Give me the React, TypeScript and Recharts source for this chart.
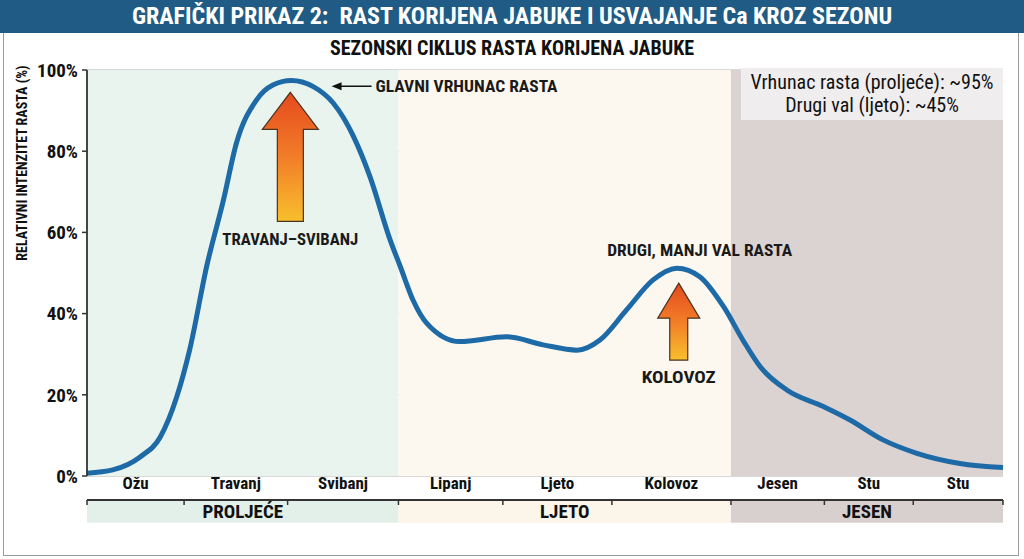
import { LineChart, Line, XAxis, YAxis, CartesianGrid, ReferenceArea, ReferenceDot } from "recharts";

const FONT = "'Liberation Sans Narrow', 'Roboto Condensed', Roboto, Arial, sans-serif";

// position along the season (0 = start of Ožu, 100 = end of last Stu)
const seasonPos = [
  0, 2.8, 5.8, 8.0, 9.8, 11.2, 13.1, 14.9, 16.3, 18.5, 20.3, 22.3, 24.7, 26.9, 29.1, 30.9, 33.1,
  34.2, 35.6, 37.1, 40.7, 45.8, 49.8, 53.5, 56.0, 58.9, 61.8, 64.4, 66.9, 69.5, 71.6, 73.5, 76.4,
  80.4, 83.3, 86.9, 90.6, 95.3, 100,
];
// relative root growth intensity (%)
const growth = [
  0.7, 1.5, 4.7, 9.6, 19.5, 31.0, 52.0, 68.0, 81.9, 92.6, 96.3, 97.4, 95.9, 91.8, 83.6, 73.7, 58.1,
  51.6, 43.3, 37.6, 33.1, 34.3, 32.3, 31.0, 33.5, 40.9, 48.3, 51.2, 49.1, 41.7, 33.5, 26.9, 21.2,
  17.1, 13.8, 8.9, 5.6, 3.1, 2.1,
];

const monthBounds = [0, 10.6, 21.9, 34.0, 45.4, 57.3, 70.3, 80.5, 90.2, 100];
const monthNames = ["Ožu", "Travanj", "Svibanj", "Lipanj", "Ljeto", "Kolovoz", "Jesen", "Stu", "Stu"];
const seasonNames = ["PROLJEĆE", "LJETO", "JESEN"];
const seasonBounds = [0, 34.0, 70.3, 100];
const seasonFill = ["#e9f4ee", "#fdf8ef", "#dbd2d2"];
const seasonRowFill = ["#e2f0e9", "#fcf5ea", "#d8cfcf"];
const yTicks = [0, 20, 40, 60, 80, 100];

const mainPeak = { pos: 22.2, value: 94.5 };
const secondPeak = { pos: 64.6, value: 47.5 };
const peakPointer = { pos: 26.7, value: 96 };

const data = seasonPos.map((p, i) => ({ pos: p, growth: growth[i] }));
const monthMids = monthNames.map((_, i) => (monthBounds[i] + monthBounds[i + 1]) / 2);

function UpArrow(props: any) {
  const { cx, cy, headW, headH, shaftW, len, label, labelDy, labelW, top, topDx, topW } = props;
  const pts = [
    [cx, cy],
    [cx + headW, cy + headH],
    [cx + shaftW, cy + headH],
    [cx + shaftW, cy + len],
    [cx - shaftW, cy + len],
    [cx - shaftW, cy + headH],
    [cx - headW, cy + headH],
  ]
    .map((p) => p.join(","))
    .join(" ");
  return (
    <g>
      <polygon points={pts} fill="url(#arrowGrad)" stroke="#4a3320" strokeWidth={1.2} />
      <text
        x={cx}
        y={cy + labelDy}
        textAnchor="middle"
        fontSize={17}
        fontWeight={700}
        fill="#1a1a1a"
        textLength={labelW}
        lengthAdjust="spacingAndGlyphs"
      >
        {label}
      </text>
      {top ? (
        <text
          x={cx + topDx}
          y={cy - 27}
          textAnchor="middle"
          fontSize={17}
          fontWeight={700}
          fill="#1a1a1a"
          textLength={topW}
          lengthAdjust="spacingAndGlyphs"
        >
          {top}
        </text>
      ) : null}
    </g>
  );
}

function LeftPointer(props: any) {
  const { cx, cy } = props;
  return (
    <g>
      <line x1={cx + 6} y1={cy} x2={cx + 40} y2={cy} stroke="#111" strokeWidth={1.5} />
      <polygon points={`${cx},${cy} ${cx + 10},${cy - 4} ${cx + 10},${cy + 4}`} fill="#111" />
      <text
        x={cx + 44}
        y={cy + 6}
        fontSize={17}
        fontWeight={700}
        fill="#1a1a1a"
        textLength={182}
        lengthAdjust="spacingAndGlyphs"
      >
        GLAVNI VRHUNAC RASTA
      </text>
    </g>
  );
}

export default function App() {
  return (
    <div
      style={{
        position: "relative",
        width: 1024,
        height: 559,
        background: "#ffffff",
        fontFamily: FONT,
        overflow: "hidden",
      }}
    >
      <style>{`body{margin:0}`}</style>
      <div
        style={{
          position: "absolute",
          left: 3,
          top: 30,
          width: 1014,
          height: 524,
          border: "1.5px solid #9c9c9c",
        }}
      />
      <div
        style={{
          position: "absolute",
          left: 0,
          top: 0,
          width: 1024,
          height: 33,
          background: "#1f5b84",
          color: "#ffffff",
          fontWeight: 700,
          fontSize: 24,
          lineHeight: "33px",
          textAlign: "center",
          whiteSpace: "pre",
        }}
      >
        {"GRAFIČKI PRIKAZ 2:  RAST KORIJENA JABUKE I USVAJANJE Ca KROZ SEZONU"}
      </div>
      <div
        style={{
          position: "absolute",
          left: 0,
          top: 36,
          width: 1024,
          textAlign: "center",
          fontWeight: 700,
          fontSize: 20,
          color: "#111",
        }}
      >
        SEZONSKI CIKLUS RASTA KORIJENA JABUKE
      </div>
      <div
        style={{
          position: "absolute",
          left: 22,
          top: 163,
          transform: "translate(-50%, -50%) rotate(-90deg)",
          whiteSpace: "nowrap",
          fontWeight: 700,
          fontSize: 14,
          color: "#111",
        }}
      >
        RELATIVNI INTENZITET RASTA (%)
      </div>
      <div style={{ position: "absolute", left: 0, top: 0 }}>
        <LineChart width={1024} height={559} data={data} margin={{ top: 70, right: 21, bottom: 53, left: 0 }}>
          <defs>
            <linearGradient id="arrowGrad" x1="0" y1="0" x2="0" y2="1">
              <stop offset="0%" stopColor="#e54a1f" />
              <stop offset="50%" stopColor="#f27d28" />
              <stop offset="100%" stopColor="#f8bf2c" />
            </linearGradient>
          </defs>
          {seasonNames.map((s, i) => (
            <ReferenceArea
              key={"bg" + i}
              xAxisId="m"
              x1={seasonBounds[i]}
              x2={seasonBounds[i + 1]}
              y1={0}
              y2={100}
              fill={seasonFill[i]}
              fillOpacity={1}
              stroke="none"
            />
          ))}
          {seasonNames.map((s, i) => (
            <ReferenceArea
              key={"row" + i}
              xAxisId="m"
              x1={seasonBounds[i]}
              x2={seasonBounds[i + 1]}
              y1={-5.9}
              y2={-11.5}
              ifOverflow="visible"
              fill={seasonRowFill[i]}
              fillOpacity={1}
              stroke="none"
              label={{ value: s, position: "center", fill: "#111", fontSize: 19, fontWeight: 700 }}
            />
          ))}
          <CartesianGrid vertical={false} stroke="#b4b4b4" strokeWidth={1.2} xAxisId="m" />
          <XAxis
            xAxisId="m"
            dataKey="pos"
            type="number"
            domain={[0, 100]}
            ticks={monthBounds}
            interval={0}
            tickFormatter={() => ""}
            tickSize={5}
            height={6}
            stroke="#333"
            axisLine={{ stroke: "#333", strokeWidth: 1.8 }}
            tickLine={{ stroke: "#333", strokeWidth: 1.5 }}
          />
          <XAxis
            xAxisId="lab"
            dataKey="pos"
            type="number"
            domain={[0, 100]}
            ticks={monthMids}
            interval={0}
            tickFormatter={(_v: number, i: number) => monthNames[i]}
            axisLine={false}
            tickLine={false}
            tickSize={0}
            tickMargin={1}
            height={24}
            tick={{ fill: "#111", fontSize: 17, fontWeight: 700 }}
          />
          <YAxis
            type="number"
            domain={[0, 100]}
            ticks={yTicks}
            interval={0}
            width={87}
            tickSize={5}
            tickMargin={4}
            tickFormatter={(v: number) => `${v}%`}
            axisLine={{ stroke: "#333", strokeWidth: 1.8 }}
            tickLine={{ stroke: "#333", strokeWidth: 1.5 }}
            tick={{ fill: "#111", fontSize: 19, fontWeight: 700 }}
          />
          <Line
            xAxisId="m"
            type="monotone"
            dataKey="growth"
            stroke="#1d6aa7"
            strokeWidth={5}
            dot={false}
            isAnimationActive={false}
          />
          <ReferenceDot
            xAxisId="m"
            x={mainPeak.pos}
            y={mainPeak.value}
            ifOverflow="visible"
            shape={(p: any) => (
              <UpArrow
                {...p}
                headW={28}
                headH={37}
                shaftW={13}
                len={129}
                label="TRAVANJ–SVIBANJ"
                labelDy={153}
                labelW={136}
              />
            )}
          />
          <ReferenceDot
            xAxisId="m"
            x={secondPeak.pos}
            y={secondPeak.value}
            ifOverflow="visible"
            shape={(p: any) => (
              <UpArrow
                {...p}
                headW={21}
                headH={35}
                shaftW={9}
                len={77}
                label="KOLOVOZ"
                labelDy={100}
                labelW={74}
                top="DRUGI, MANJI VAL RASTA"
                topDx={21}
                topW={185}
              />
            )}
          />
          <ReferenceDot
            xAxisId="m"
            x={peakPointer.pos}
            y={peakPointer.value}
            ifOverflow="visible"
            shape={(p: any) => <LeftPointer {...p} />}
          />
        </LineChart>
      </div>
      <div
        style={{
          position: "absolute",
          left: 741,
          top: 68,
          width: 262,
          height: 52,
          background: "#efeded",
          textAlign: "center",
          fontSize: 20,
          lineHeight: "23px",
          color: "#111",
          paddingTop: 3,
          boxSizing: "border-box",
        }}
      >
        <div>Vrhunac rasta (proljeće): ~95%</div>
        <div>Drugi val (ljeto): ~45%</div>
      </div>
    </div>
  );
}
